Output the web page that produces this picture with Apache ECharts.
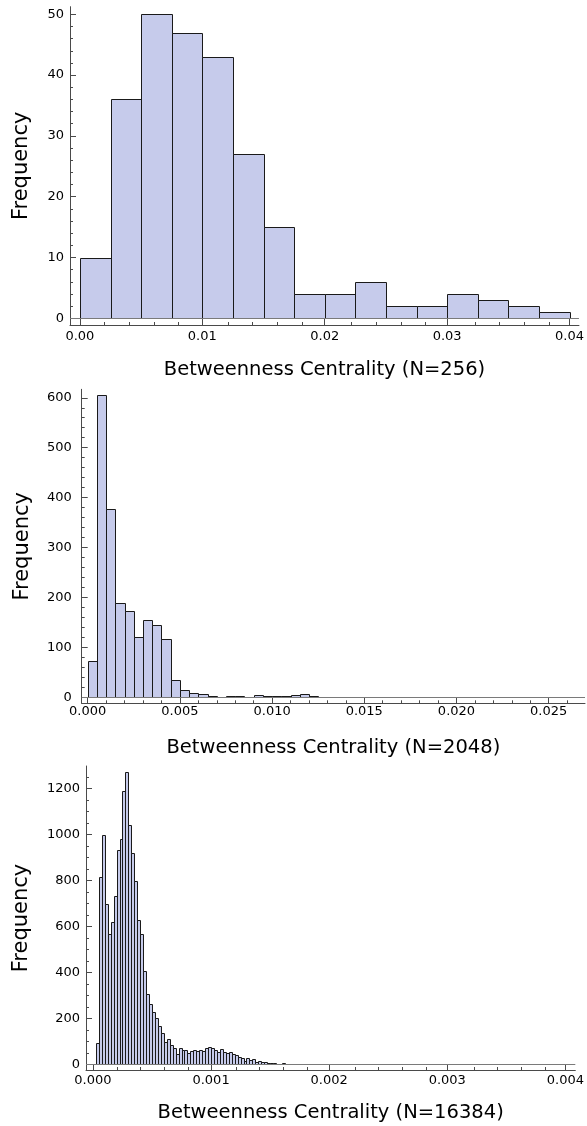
<!DOCTYPE html>
<html><head><meta charset="utf-8">
<script src="https://cdn.jsdelivr.net/npm/echarts@6/dist/echarts.min.js"></script>
<style>html,body{margin:0;padding:0;background:#fff}#c{width:587px;height:1126px}</style>
</head><body><div id="c"></div>
<script>
// ---- data ----
const X_TITLES = ['Betweenness Centrality (N=256)', 'Betweenness Centrality (N=2048)', 'Betweenness Centrality (N=16384)'];
const Y_TITLE = 'Frequency';

const BIN_WIDTH_256 = 0.0025;
const COUNTS_256 = [10,36,50,47,43,27,15,4,4,6,2,2,4,3,2,1];

const BIN_WIDTH_2048 = 0.0005;
const COUNTS_2048 = [72,605,378,188,173,120,154,144,116,35,15,8,6,3,
  1,2,3,1,5,2,3,3,5,7,2,1,1,
  0,0,0,1,
  0,0,0,0,0,0,0,0,0,0,0,0,0,0,0,0,0,0,0,0,0,
  1];

const BIN_WIDTH_16384 = 0.000025;
const COUNTS_16384 = [0,
  91,816,996,697,565,617,732,932,978,1187,1270,1041,917,799,628,567,407,306,261,
  229,200,167,138,97,109,83,70,45,70,62,61,49,59,62,57,64,58,70,74,70,62,54,65,54,51,55,46,42,33,29,16,26,
  20,22,12,14,10,8,6,5,4,3,3,4,2,2,3,2,1,
  1,1,1,1,0,1,1,1,0,1,
  1,1,1,0,1,1,1,1,1,1,
  0,1,1,1,1,1,0,1,1,1,
  1,1,3,1,1,1,1,0,1,1,
  1,1,1,3,1,1,1,1,1,1,
  1,1,0,1,3,1,1,1,2,1,
  1,1,1,1,3,1,1,1,2,1,
  1,1,1,1,1,1,1,1,1,1,
  1,1,1,1,1,1,1,1,1,1];

const X_TICKS_256 = [0, 0.01, 0.02, 0.03, 0.04];
const Y_TICKS_256 = [0, 10, 20, 30, 40, 50];
const X_TICKS_2048 = [0, 0.005, 0.010, 0.015, 0.020, 0.025];
const Y_TICKS_2048 = [0, 100, 200, 300, 400, 500, 600];
const X_TICKS_16384 = [0, 0.001, 0.002, 0.003, 0.004];
const Y_TICKS_16384 = [0, 200, 400, 600, 800, 1000, 1200];

// ---- styles ----
const FONT = 'DejaVu Sans';
const AXIS_COLOR = '#4a4a4a';
const BAR_FILL = '#c6cbeb';
const BAR_EDGE = '#1a1a1a';

function minorTicks(majors, step, maxV) {
  const out = [];
  const n = Math.floor(maxV / step + 1e-6);
  for (let k = 0; k <= n; k++) {
    const v = +(k * step).toFixed(8);
    if (!majors.some(m => Math.abs(m - v) < step * 1e-3)) out.push(v);
  }
  return out;
}

const panels = [
  {counts: COUNTS_256, bw: BIN_WIDTH_256,
   rect: {left: 70, top: 6.7, width: 513, height: 318.3},
   xMin: -0.00081, xMax: 0.04077, yMin: -1.1, yMax: 51.25,
   xTicks: X_TICKS_256, xMinor: minorTicks(X_TICKS_256, 0.002, 0.0407),
   yTicks: Y_TICKS_256, yMinor: minorTicks(Y_TICKS_256, 2, 51),
   xDigits: 2, xLabelMargin: 5, yLabelMargin: 6, nameGapX: 35, nameGapY: 38, title: X_TITLES[0]},
  {counts: COUNTS_2048, bw: BIN_WIDTH_2048,
   rect: {left: 81.7, top: 389.3, width: 503.3, height: 314},
   xMin: -0.000325, xMax: 0.02697, yMin: -12.2, yMax: 617,
   xTicks: X_TICKS_2048, xMinor: minorTicks(X_TICKS_2048, 0.001, 0.02697),
   yTicks: Y_TICKS_2048, yMinor: minorTicks(Y_TICKS_2048, 20, 617),
   xDigits: 3, xLabelMargin: 2, yLabelMargin: 10, nameGapX: 35, nameGapY: 49, title: X_TITLES[1]},
  {counts: COUNTS_16384, bw: BIN_WIDTH_16384,
   rect: {left: 86, top: 766, width: 493, height: 304},
   xMin: -0.0000588, xMax: 0.004084, yMin: -24.8, yMax: 1297,
   xTicks: X_TICKS_16384, xMinor: minorTicks(X_TICKS_16384, 0.0002, 0.00408),
   yTicks: Y_TICKS_16384, yMinor: minorTicks(Y_TICKS_16384, 50, 1297),
   xDigits: 3, xLabelMargin: 4, yLabelMargin: 6, nameGapX: 33, nameGapY: 54, title: X_TITLES[2]}
];

const grid = [], xAxis = [], yAxis = [], series = [];
const P = panels.length;
panels.forEach((p, i) => {
  grid[i] = Object.assign({containLabel: false}, p.rect);
  grid[P + i] = Object.assign({containLabel: false}, p.rect);
  // main axes
  xAxis[i] = {
    type: 'value', gridIndex: i, min: p.xMin, max: p.xMax, position: 'bottom',
    axisLine: {show: true, onZero: false, lineStyle: {color: AXIS_COLOR, width: 1}},
    axisTick: {show: true, inside: true, length: 6, customValues: p.xTicks, lineStyle: {color: AXIS_COLOR, width: 1}},
    axisLabel: {show: true, customValues: p.xTicks, formatter: v => Number(v).toFixed(p.xDigits),
      color: '#000', fontFamily: FONT, fontSize: 13, margin: p.xLabelMargin},
    splitLine: {show: false}, minorTick: {show: false},
    name: p.title, nameLocation: 'middle', nameGap: p.nameGapX,
    nameTextStyle: {color: '#000', fontFamily: FONT, fontSize: 19.5}
  };
  yAxis[i] = {
    type: 'value', gridIndex: i, min: p.yMin, max: p.yMax, position: 'left',
    axisLine: {show: true, onZero: false, lineStyle: {color: AXIS_COLOR, width: 1}},
    axisTick: {show: true, inside: true, length: 6, customValues: p.yTicks, lineStyle: {color: AXIS_COLOR, width: 1}},
    axisLabel: {show: true, customValues: p.yTicks, formatter: v => String(Math.round(v)),
      color: '#000', fontFamily: FONT, fontSize: 13, margin: p.yLabelMargin},
    splitLine: {show: false},
    name: Y_TITLE, nameLocation: 'middle', nameGap: p.nameGapY,
    nameTextStyle: {color: '#000', fontFamily: FONT, fontSize: 21}
  };
  // minor tick overlay axes
  xAxis[P + i] = {
    type: 'value', gridIndex: P + i, min: p.xMin, max: p.xMax, position: 'bottom',
    axisLine: {show: false, onZero: false},
    axisTick: {show: true, inside: true, length: 3, customValues: p.xMinor, lineStyle: {color: AXIS_COLOR, width: 1}},
    axisLabel: {show: false}, splitLine: {show: false}
  };
  yAxis[P + i] = {
    type: 'value', gridIndex: P + i, min: p.yMin, max: p.yMax, position: 'left',
    axisLine: {show: false, onZero: false},
    axisTick: {show: true, inside: true, length: 3, customValues: p.yMinor, lineStyle: {color: AXIS_COLOR, width: 1}},
    axisLabel: {show: false}, splitLine: {show: false}
  };
  const data = p.counts.map((c, k) => [k * p.bw, (k + 1) * p.bw, c]);
  series.push({
    type: 'custom', xAxisIndex: i, yAxisIndex: i, data: data,
    encode: {x: [0, 1], y: 2}, animation: false, silent: true, clip: false,
    renderItem: function (params, api) {
      const c = api.value(2);
      if (!c) return null;
      const a = api.coord([api.value(0), c]);
      const b = api.coord([api.value(1), 0]);
      const x0 = Math.round(a[0]) + 0.5, x1 = Math.round(b[0]) + 0.5;
      const y0 = Math.round(a[1]) + 0.5, y1 = Math.round(b[1]) + 0.5;
      return {type: 'rect', shape: {x: x0, y: y0, width: x1 - x0, height: Math.max(y1 - y0, 0.01)},
        style: {fill: BAR_FILL, stroke: BAR_EDGE, lineWidth: 1}};
    },
    markLine: {silent: true, symbol: ['none', 'none'], label: {show: false}, animation: false,
      lineStyle: {color: '#7a7a7a', type: 'solid', width: 1},
      data: [{yAxis: 0}]}
  });
});

const chart = echarts.init(document.getElementById('c'), null, {renderer: 'canvas'});
chart.setOption({animation: false, backgroundColor: '#fff', grid, xAxis, yAxis, series});
</script></body></html>
